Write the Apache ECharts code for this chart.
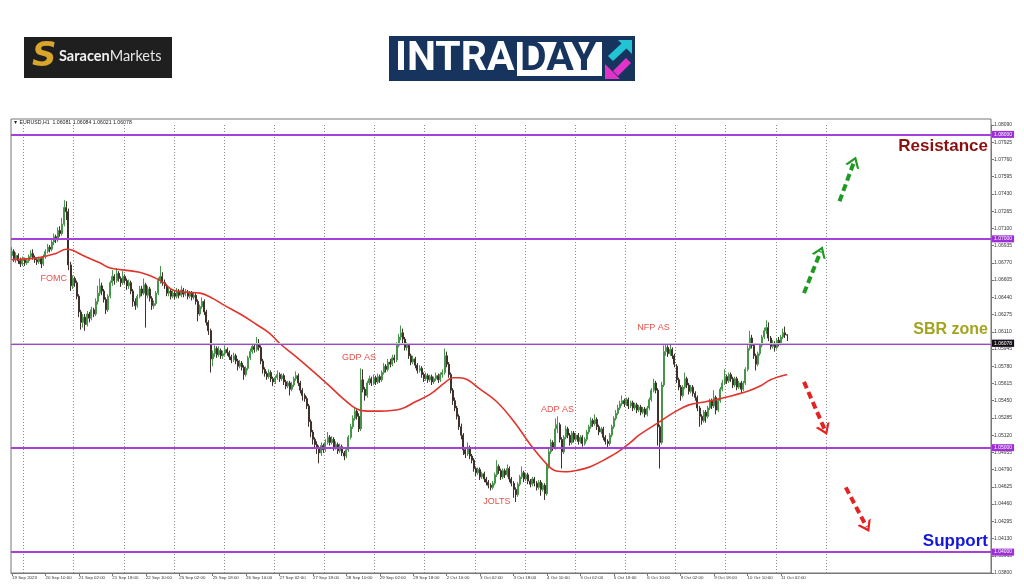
<!DOCTYPE html>
<html><head><meta charset="utf-8">
<script src="https://cdn.jsdelivr.net/npm/echarts@6/dist/echarts.min.js"></script>
<style>html,body{margin:0;padding:0;background:#fff}#c{width:1024px;height:587px}</style>
</head><body><div id="c"></div>
<script>
// ---- data ----
const timeLabels = ['19 Sep 2023','20 Sep 10:00','21 Sep 02:00','21 Sep 18:00','22 Sep 10:00','25 Sep 02:00','25 Sep 18:00','26 Sep 10:00','27 Sep 02:00','27 Sep 18:00','28 Sep 10:00','29 Sep 02:00','29 Sep 18:00','2 Oct 10:00','3 Oct 02:00','3 Oct 18:00','4 Oct 10:00','5 Oct 02:00','5 Oct 18:00','6 Oct 10:00','9 Oct 02:00','9 Oct 18:00','10 Oct 10:00','11 Oct 02:00'];
const barsPerLabel = 16;
const totalSlots = 469;           // hourly slots incl. empty chart shift on the right
const dayStartSlot = 6, barsPerDay = 24, lastGridSlot = 390;

// EURUSD H1 candles: [open, close, low, high]
const ohlc = [
[1.0684,1.0688,1.0680,1.0692],[1.0688,1.0681,1.0678,1.0690],[1.0681,1.0684,1.0677,1.0687],[1.0684,1.0679,1.0676,1.0686],[1.0679,1.0676,1.0673,1.0682],[1.0676,1.0680,1.0674,1.0683],[1.0680,1.0677,1.0674,1.0682],[1.0677,1.0679,1.0675,1.0681],[1.0679,1.0683,1.0677,1.0685],[1.0683,1.0686,1.0681,1.0689],
[1.0686,1.0682,1.0680,1.0690],[1.0682,1.0680,1.0677,1.0684],[1.0680,1.0678,1.0675,1.0682],[1.0678,1.0681,1.0676,1.0683],[1.0681,1.0676,1.0672,1.0682],[1.0676,1.0683,1.0674,1.0685],[1.0683,1.0688,1.0681,1.0690],[1.0688,1.0692,1.0686,1.0695],[1.0692,1.0690,1.0687,1.0694],[1.0690,1.0697,1.0688,1.0699],
[1.0697,1.0702,1.0694,1.0705],[1.0702,1.0699,1.0696,1.0704],[1.0699,1.0708,1.0697,1.0711],[1.0708,1.0705,1.0702,1.0712],[1.0705,1.0714,1.0703,1.0720],[1.0714,1.0730,1.0712,1.0737],[1.0730,1.0726,1.0718,1.0736],[1.0726,1.0675,1.0670,1.0729],[1.0675,1.0655,1.0650,1.0678],[1.0655,1.0662,1.0652,1.0665],
[1.0662,1.0658,1.0654,1.0664],[1.0658,1.0645,1.0642,1.0660],[1.0645,1.0630,1.0625,1.0647],[1.0630,1.0620,1.0613,1.0632],[1.0620,1.0625,1.0615,1.0628],[1.0625,1.0618,1.0612,1.0628],[1.0618,1.0628,1.0616,1.0631],[1.0628,1.0624,1.0620,1.0630],[1.0624,1.0632,1.0622,1.0635],[1.0632,1.0628,1.0625,1.0634],
[1.0628,1.0640,1.0626,1.0643],[1.0640,1.0648,1.0637,1.0655],[1.0648,1.0655,1.0645,1.0662],[1.0655,1.0650,1.0646,1.0658],[1.0650,1.0642,1.0639,1.0652],[1.0642,1.0632,1.0628,1.0644],[1.0632,1.0645,1.0630,1.0647],[1.0645,1.0658,1.0643,1.0660],[1.0658,1.0664,1.0655,1.0670],[1.0664,1.0660,1.0656,1.0666],
[1.0660,1.0667,1.0658,1.0672],[1.0667,1.0662,1.0659,1.0669],[1.0662,1.0658,1.0654,1.0664],[1.0658,1.0664,1.0656,1.0669],[1.0664,1.0660,1.0657,1.0666],[1.0660,1.0655,1.0651,1.0662],[1.0655,1.0658,1.0652,1.0661],[1.0658,1.0650,1.0647,1.0660],[1.0650,1.0640,1.0635,1.0652],[1.0640,1.0636,1.0632,1.0643],
[1.0636,1.0645,1.0634,1.0647],[1.0645,1.0652,1.0643,1.0655],[1.0652,1.0648,1.0645,1.0655],[1.0648,1.0656,1.0646,1.0662],[1.0656,1.0646,1.0615,1.0658],[1.0646,1.0652,1.0643,1.0655],[1.0652,1.0643,1.0640,1.0654],[1.0643,1.0636,1.0632,1.0645],[1.0636,1.0638,1.0633,1.0641],[1.0638,1.0648,1.0636,1.0650],
[1.0648,1.0660,1.0646,1.0663],[1.0660,1.0664,1.0657,1.0674],[1.0664,1.0658,1.0655,1.0668],[1.0658,1.0655,1.0652,1.0661],[1.0655,1.0648,1.0645,1.0657],[1.0648,1.0650,1.0645,1.0653],[1.0650,1.0645,1.0642,1.0652],[1.0645,1.0648,1.0643,1.0651],[1.0648,1.0645,1.0642,1.0650],[1.0645,1.0650,1.0643,1.0653],
[1.0650,1.0646,1.0643,1.0652],[1.0646,1.0651,1.0644,1.0655],[1.0651,1.0647,1.0644,1.0653],[1.0647,1.0649,1.0645,1.0652],[1.0649,1.0645,1.0642,1.0651],[1.0645,1.0648,1.0643,1.0650],[1.0648,1.0644,1.0641,1.0650],[1.0644,1.0646,1.0642,1.0649],[1.0646,1.0640,1.0637,1.0648],[1.0640,1.0628,1.0621,1.0642],
[1.0628,1.0635,1.0626,1.0637],[1.0635,1.0640,1.0633,1.0644],[1.0640,1.0630,1.0627,1.0642],[1.0630,1.0620,1.0617,1.0632],[1.0620,1.0612,1.0608,1.0622],[1.0612,1.0585,1.0572,1.0614],[1.0585,1.0590,1.0578,1.0593],[1.0590,1.0595,1.0587,1.0598],[1.0595,1.0589,1.0586,1.0597],[1.0589,1.0593,1.0587,1.0597],
[1.0593,1.0588,1.0585,1.0595],[1.0588,1.0590,1.0585,1.0593],[1.0590,1.0594,1.0588,1.0598],[1.0594,1.0591,1.0588,1.0596],[1.0591,1.0587,1.0584,1.0593],[1.0587,1.0584,1.0581,1.0589],[1.0584,1.0588,1.0582,1.0591],[1.0588,1.0583,1.0580,1.0590],[1.0583,1.0578,1.0574,1.0585],[1.0578,1.0581,1.0576,1.0584],
[1.0581,1.0577,1.0574,1.0583],[1.0577,1.0570,1.0565,1.0579],[1.0570,1.0576,1.0568,1.0578],[1.0576,1.0586,1.0574,1.0588],[1.0586,1.0592,1.0584,1.0595],[1.0592,1.0597,1.0590,1.0600],[1.0597,1.0594,1.0591,1.0599],[1.0594,1.0600,1.0592,1.0606],[1.0600,1.0596,1.0593,1.0604],[1.0596,1.0583,1.0580,1.0598],
[1.0583,1.0575,1.0571,1.0585],[1.0575,1.0571,1.0568,1.0577],[1.0571,1.0568,1.0565,1.0573],[1.0568,1.0572,1.0566,1.0575],[1.0572,1.0566,1.0563,1.0574],[1.0566,1.0563,1.0559,1.0568],[1.0563,1.0567,1.0561,1.0569],[1.0567,1.0570,1.0565,1.0574],[1.0570,1.0566,1.0563,1.0572],[1.0566,1.0569,1.0564,1.0571],
[1.0569,1.0563,1.0560,1.0571],[1.0563,1.0559,1.0556,1.0565],[1.0559,1.0562,1.0557,1.0564],[1.0562,1.0556,1.0550,1.0564],[1.0556,1.0560,1.0554,1.0563],[1.0560,1.0566,1.0558,1.0568],[1.0566,1.0569,1.0564,1.0573],[1.0569,1.0562,1.0559,1.0571],[1.0562,1.0555,1.0552,1.0564],[1.0555,1.0550,1.0545,1.0557],
[1.0550,1.0547,1.0544,1.0552],[1.0547,1.0540,1.0537,1.0549],[1.0540,1.0525,1.0520,1.0542],[1.0525,1.0515,1.0510,1.0527],[1.0515,1.0508,1.0503,1.0517],[1.0508,1.0503,1.0499,1.0510],[1.0503,1.0500,1.0494,1.0506],[1.0500,1.0495,1.0485,1.0502],[1.0495,1.0502,1.0492,1.0505],[1.0502,1.0498,1.0495,1.0504],
[1.0498,1.0505,1.0496,1.0508],[1.0505,1.0510,1.0503,1.0515],[1.0510,1.0505,1.0502,1.0512],[1.0505,1.0508,1.0503,1.0511],[1.0508,1.0500,1.0497,1.0510],[1.0500,1.0503,1.0498,1.0506],[1.0503,1.0497,1.0494,1.0505],[1.0497,1.0501,1.0495,1.0504],[1.0501,1.0495,1.0492,1.0503],[1.0495,1.0492,1.0488,1.0497],
[1.0492,1.0498,1.0490,1.0500],[1.0498,1.0510,1.0496,1.0512],[1.0510,1.0520,1.0508,1.0523],[1.0520,1.0528,1.0518,1.0531],[1.0528,1.0535,1.0526,1.0539],[1.0535,1.0530,1.0527,1.0538],[1.0530,1.0518,1.0515,1.0533],[1.0518,1.0565,1.0516,1.0576],[1.0565,1.0556,1.0553,1.0575],[1.0556,1.0550,1.0545,1.0558],
[1.0550,1.0562,1.0548,1.0564],[1.0562,1.0566,1.0560,1.0569],[1.0566,1.0562,1.0559,1.0568],[1.0562,1.0567,1.0560,1.0570],[1.0567,1.0563,1.0560,1.0569],[1.0563,1.0568,1.0561,1.0571],[1.0568,1.0565,1.0562,1.0570],[1.0565,1.0572,1.0563,1.0574],[1.0572,1.0578,1.0570,1.0581],[1.0578,1.0575,1.0572,1.0580],
[1.0575,1.0582,1.0573,1.0585],[1.0582,1.0580,1.0577,1.0585],[1.0580,1.0586,1.0578,1.0589],[1.0586,1.0584,1.0581,1.0589],[1.0584,1.0598,1.0582,1.0601],[1.0598,1.0606,1.0596,1.0609],[1.0606,1.0610,1.0603,1.0617],[1.0610,1.0604,1.0600,1.0614],[1.0604,1.0596,1.0593,1.0606],[1.0596,1.0598,1.0593,1.0601],
[1.0598,1.0588,1.0585,1.0600],[1.0588,1.0582,1.0579,1.0590],[1.0582,1.0585,1.0580,1.0588],[1.0585,1.0579,1.0576,1.0587],[1.0579,1.0574,1.0571,1.0581],[1.0574,1.0576,1.0572,1.0579],[1.0576,1.0570,1.0567,1.0578],[1.0570,1.0566,1.0563,1.0572],[1.0566,1.0569,1.0564,1.0572],[1.0569,1.0565,1.0562,1.0571],
[1.0565,1.0568,1.0563,1.0570],[1.0568,1.0563,1.0560,1.0570],[1.0563,1.0566,1.0561,1.0568],[1.0566,1.0569,1.0564,1.0572],[1.0569,1.0565,1.0562,1.0571],[1.0565,1.0570,1.0563,1.0572],[1.0570,1.0572,1.0567,1.0575],[1.0572,1.0588,1.0570,1.0595],[1.0588,1.0580,1.0577,1.0592],[1.0580,1.0570,1.0567,1.0582],
[1.0570,1.0555,1.0552,1.0572],[1.0555,1.0545,1.0541,1.0557],[1.0545,1.0538,1.0535,1.0548],[1.0538,1.0530,1.0527,1.0540],[1.0530,1.0520,1.0517,1.0532],[1.0520,1.0512,1.0508,1.0523],[1.0512,1.0498,1.0493,1.0514],[1.0498,1.0494,1.0490,1.0500],[1.0494,1.0500,1.0492,1.0505],[1.0500,1.0492,1.0489,1.0502],
[1.0492,1.0488,1.0485,1.0494],[1.0488,1.0480,1.0477,1.0490],[1.0480,1.0476,1.0473,1.0482],[1.0476,1.0479,1.0474,1.0481],[1.0479,1.0472,1.0469,1.0481],[1.0472,1.0475,1.0470,1.0477],[1.0475,1.0470,1.0467,1.0477],[1.0470,1.0467,1.0464,1.0472],[1.0467,1.0464,1.0461,1.0469],[1.0464,1.0462,1.0459,1.0466],
[1.0462,1.0466,1.0460,1.0468],[1.0466,1.0474,1.0464,1.0476],[1.0474,1.0482,1.0472,1.0488],[1.0482,1.0478,1.0475,1.0484],[1.0478,1.0472,1.0469,1.0480],[1.0472,1.0478,1.0470,1.0480],[1.0478,1.0474,1.0471,1.0480],[1.0474,1.0480,1.0472,1.0484],[1.0480,1.0470,1.0467,1.0482],[1.0470,1.0466,1.0463,1.0472],
[1.0466,1.0460,1.0452,1.0468],[1.0460,1.0455,1.0448,1.0462],[1.0455,1.0465,1.0453,1.0467],[1.0465,1.0472,1.0463,1.0474],[1.0472,1.0476,1.0470,1.0482],[1.0476,1.0470,1.0467,1.0478],[1.0470,1.0474,1.0468,1.0476],[1.0474,1.0468,1.0465,1.0476],[1.0468,1.0465,1.0462,1.0470],[1.0465,1.0470,1.0463,1.0472],
[1.0470,1.0466,1.0463,1.0472],[1.0466,1.0462,1.0459,1.0468],[1.0462,1.0467,1.0460,1.0469],[1.0467,1.0460,1.0454,1.0469],[1.0460,1.0464,1.0458,1.0466],[1.0464,1.0456,1.0450,1.0466],[1.0456,1.0482,1.0454,1.0485],[1.0482,1.0496,1.0480,1.0499],[1.0496,1.0505,1.0494,1.0508],[1.0505,1.0500,1.0497,1.0507],
[1.0500,1.0518,1.0498,1.0528],[1.0518,1.0522,1.0514,1.0530],[1.0522,1.0508,1.0505,1.0524],[1.0508,1.0496,1.0480,1.0510],[1.0496,1.0510,1.0494,1.0512],[1.0510,1.0518,1.0508,1.0521],[1.0518,1.0512,1.0509,1.0520],[1.0512,1.0505,1.0502,1.0514],[1.0505,1.0514,1.0503,1.0516],[1.0514,1.0508,1.0505,1.0516],
[1.0508,1.0512,1.0506,1.0514],[1.0512,1.0506,1.0503,1.0514],[1.0506,1.0510,1.0504,1.0512],[1.0510,1.0504,1.0501,1.0512],[1.0504,1.0508,1.0502,1.0510],[1.0508,1.0515,1.0506,1.0517],[1.0515,1.0520,1.0513,1.0522],[1.0520,1.0526,1.0518,1.0529],[1.0526,1.0523,1.0520,1.0528],[1.0523,1.0527,1.0521,1.0532],
[1.0527,1.0520,1.0517,1.0529],[1.0520,1.0515,1.0512,1.0522],[1.0515,1.0518,1.0513,1.0520],[1.0518,1.0510,1.0507,1.0520],[1.0510,1.0506,1.0503,1.0512],[1.0506,1.0504,1.0500,1.0508],[1.0504,1.0512,1.0502,1.0514],[1.0512,1.0520,1.0510,1.0522],[1.0520,1.0528,1.0518,1.0530],[1.0528,1.0533,1.0526,1.0536],
[1.0533,1.0538,1.0531,1.0541],[1.0538,1.0542,1.0536,1.0545],[1.0542,1.0545,1.0540,1.0550],[1.0545,1.0542,1.0539,1.0547],[1.0542,1.0546,1.0540,1.0548],[1.0546,1.0540,1.0537,1.0548],[1.0540,1.0543,1.0538,1.0545],[1.0543,1.0538,1.0535,1.0545],[1.0538,1.0541,1.0536,1.0543],[1.0541,1.0536,1.0533,1.0543],
[1.0536,1.0539,1.0534,1.0541],[1.0539,1.0534,1.0531,1.0541],[1.0534,1.0537,1.0532,1.0539],[1.0537,1.0532,1.0529,1.0539],[1.0532,1.0538,1.0530,1.0540],[1.0538,1.0546,1.0536,1.0548],[1.0546,1.0555,1.0544,1.0557],[1.0555,1.0562,1.0553,1.0566],[1.0562,1.0555,1.0552,1.0564],[1.0555,1.0520,1.0502,1.0557],
[1.0520,1.0505,1.0480,1.0522],[1.0505,1.0560,1.0503,1.0563],[1.0560,1.0592,1.0558,1.0598],[1.0592,1.0596,1.0588,1.0600],[1.0596,1.0590,1.0587,1.0598],[1.0590,1.0594,1.0588,1.0600],[1.0594,1.0588,1.0585,1.0596],[1.0588,1.0580,1.0577,1.0590],[1.0578,1.0565,1.0562,1.0580],[1.0565,1.0558,1.0555,1.0567],
[1.0558,1.0550,1.0545,1.0560],[1.0550,1.0558,1.0548,1.0560],[1.0558,1.0566,1.0556,1.0572],[1.0566,1.0560,1.0557,1.0568],[1.0560,1.0554,1.0551,1.0562],[1.0554,1.0558,1.0552,1.0560],[1.0558,1.0552,1.0549,1.0560],[1.0552,1.0548,1.0545,1.0554],[1.0548,1.0538,1.0535,1.0550],[1.0538,1.0530,1.0520,1.0540],
[1.0530,1.0526,1.0522,1.0532],[1.0526,1.0534,1.0524,1.0536],[1.0534,1.0530,1.0524,1.0536],[1.0530,1.0538,1.0528,1.0540],[1.0538,1.0545,1.0536,1.0547],[1.0545,1.0540,1.0537,1.0547],[1.0540,1.0548,1.0538,1.0555],[1.0548,1.0536,1.0532,1.0550],[1.0536,1.0545,1.0534,1.0547],[1.0545,1.0556,1.0543,1.0558],
[1.0556,1.0562,1.0554,1.0565],[1.0562,1.0568,1.0560,1.0575],[1.0568,1.0564,1.0561,1.0570],[1.0564,1.0570,1.0562,1.0572],[1.0570,1.0566,1.0563,1.0572],[1.0566,1.0560,1.0557,1.0568],[1.0560,1.0566,1.0558,1.0568],[1.0566,1.0558,1.0555,1.0568],[1.0558,1.0562,1.0556,1.0564],[1.0562,1.0556,1.0552,1.0564],
[1.0556,1.0562,1.0554,1.0564],[1.0562,1.0575,1.0560,1.0577],[1.0575,1.0595,1.0573,1.0598],[1.0595,1.0605,1.0593,1.0612],[1.0605,1.0598,1.0595,1.0608],[1.0598,1.0588,1.0585,1.0600],[1.0588,1.0580,1.0574,1.0590],[1.0580,1.0590,1.0578,1.0592],[1.0590,1.0598,1.0588,1.0600],[1.0598,1.0606,1.0596,1.0608],
[1.0606,1.0612,1.0604,1.0615],[1.0612,1.0615,1.0609,1.0622],[1.0615,1.0605,1.0602,1.0620],[1.0605,1.0597,1.0594,1.0607],[1.0597,1.0600,1.0595,1.0603],[1.0600,1.0596,1.0592,1.0602],[1.0596,1.0603,1.0594,1.0605],[1.0603,1.0600,1.0597,1.0606],[1.0600,1.0606,1.0598,1.0608],[1.0606,1.0610,1.0604,1.0614],
[1.0610,1.0608,1.0605,1.0616],[1.06081,1.06078,1.06021,1.06084]
];

// moving average: [slot, price]
const maPoints = [[0,1.0680],[13,1.0682],[21,1.0686],[26,1.0690],[29,1.0689],[34,1.0684],[42,1.0677],[47,1.0672],[61,1.0668],[71,1.0660],[77,1.0651],[83,1.0649],[90,1.0648],[96,1.0643],[101,1.0637],[110,1.0627],[117,1.0618],[123,1.0610],[128,1.0600],[136,1.0587],[143,1.0575],[152,1.0559],[159,1.0546],[165,1.0537],[170,1.0535],[176,1.0535],[186,1.0537],[193,1.0544],[200,1.0551],[207,1.0562],[211,1.0567],[214,1.0567],[218,1.0565],[224,1.0556],[232,1.0544],[241,1.0523],[248,1.0503],[256,1.0484],[260,1.0478],[266,1.0477],[272,1.0479],[277,1.0482],[284,1.0489],[290,1.0496],[296,1.0505],[300,1.0512],[310,1.0525],[317,1.0534],[324,1.0541],[332,1.0544],[339,1.0547],[352,1.0554],[358,1.0559],[363,1.0565],[371,1.0570]];

const levels = [1.08, 1.07, 1.06, 1.05, 1.04];
const lastPrice = 1.06078;
const headerText = '\u25BC EURUSD,H1  1.06081 1.06084 1.06021 1.06078';
const zoneTexts = [
  {level: 1.08, text: 'Resistance', color: '#8a1010', pos: 'insideEndBottom', size: 17, dy: 3},
  {level: 1.06, text: 'SBR zone', color: '#a3a320', pos: 'insideEndTop', size: 16, dy: 6},
  {level: 1.04, text: 'Support', color: '#1515e0', pos: 'insideEndTop', size: 17, dy: 2}
];
const events = [
  {slot: 20, price: 1.06624, text: 'FOMC'},
  {slot: 166, price: 1.05859, text: 'GDP AS'},
  {slot: 261, price: 1.05362, text: 'ADP AS'},
  {slot: 232, price: 1.04483, text: 'JOLTS'},
  {slot: 307, price: 1.06146, text: 'NFP AS'}
];
// projected scenario arrows: [fromSlot, fromPrice, toSlot, toPrice, colour]
const arrows = [
  [396, 1.0736, 403, 1.0774, '#1e9a22'],
  [379, 1.0648, 387, 1.0688, '#1e9a22'],
  [379, 1.0563, 389, 1.0517, '#e52222'],
  [399, 1.0462, 409, 1.0424, '#e52222']
];

// ---- chart ----
const slots = Array.from({length: totalSlots}, (_, i) => String(i));
const labelInterval = (i) => i % barsPerLabel === 0 && i / barsPerLabel < timeLabels.length;
const dayInterval = (i) => i >= dayStartSlot && (i - dayStartSlot) % barsPerDay === 0 && i <= lastGridSlot;
const chevron = 'path://M10,0 L20,12 L16.6,12 L10,4.2 L3.4,12 L0,12 Z';
const FONT = 'Liberation Sans';

const chart = echarts.init(document.getElementById('c'), null, {renderer: 'canvas'});
chart.setOption({
  animation: false,
  backgroundColor: '#ffffff',
  textStyle: {fontFamily: FONT},
  grid: {left: 11, right: 33, top: 125, bottom: 14},
  xAxis: {
    type: 'category', data: slots, boundaryGap: true,
    axisLine: {show: true, lineStyle: {color: '#777', width: 1}},
    axisTick: {show: true, alignWithLabel: true, interval: labelInterval, length: 3, lineStyle: {color: '#777'}},
    axisLabel: {interval: labelInterval, formatter: (v, idx) => timeLabels[idx / barsPerLabel] || '', fontSize: 4.4, color: '#333', align: 'left', margin: 3, fontFamily: FONT},
    splitLine: {show: true, interval: dayInterval, lineStyle: {type: [1, 2], color: '#8a8a8a', width: 1}}
  },
  yAxis: {
    type: 'value', position: 'right', min: 1.038, max: 1.0809, interval: 0.00165,
    axisLine: {show: true, lineStyle: {color: '#777'}},
    axisTick: {show: true, length: 3, lineStyle: {color: '#777'}},
    axisLabel: {fontSize: 5, color: '#333', margin: 3, formatter: (v) => v.toFixed(5), fontFamily: FONT},
    splitLine: {show: false}
  },
  series: [
    {
      type: 'candlestick', data: ohlc, barWidth: 1.5,
      itemStyle: {color: '#3a9140', color0: '#2f231e', borderColor: '#46954a', borderColor0: '#3e302a', borderWidth: 1},
      markLine: {
        silent: true, symbol: ['none', 'none'], animation: false,
        data: levels.map(v => ({
          yAxis: v,
          lineStyle: {color: '#a540d8', width: 2, type: 'solid'},
          label: {show: true, position: 'end', formatter: v.toFixed(5), backgroundColor: '#9c2fd6', color: '#fff', fontSize: 5, padding: [1, 2], distance: 1, fontFamily: FONT}
        })).concat([{
          yAxis: lastPrice,
          lineStyle: {color: '#c4c4c4', width: 1, type: 'solid'},
          label: {show: true, position: 'end', formatter: lastPrice.toFixed(5), backgroundColor: '#111', color: '#fff', fontSize: 5, padding: [1, 2], distance: 1, fontFamily: FONT}
        }])
      },
      markPoint: {
        silent: true, symbol: 'circle', symbolSize: 1, itemStyle: {color: 'rgba(0,0,0,0)'},
        label: {show: true, position: 'inside', formatter: p => p.name, color: '#e4524a', fontSize: 9, fontFamily: FONT},
        data: events.map(e => ({name: e.text, coord: [e.slot, e.price]}))
      }
    },
    {
      type: 'line', data: maPoints, smooth: 0.4, showSymbol: false, symbol: 'none',
      lineStyle: {color: '#e0342c', width: 1.6}, z: 3,
      markLine: {
        silent: true, animation: false, symbol: ['none', 'none'],
        data: arrows.map(a => ([
          {coord: [a[0], a[1]], symbol: 'none', lineStyle: {color: a[4], width: 4, type: [7, 4]}, label: {show: false}},
          {coord: [a[2], a[3]], symbol: chevron, symbolSize: [15, 11]}
        ]))
      }
    },
    {
      type: 'line', data: [], symbol: 'none', z: 4,
      markLine: {
        silent: true, animation: false, symbol: ['none', 'none'],
        data: zoneTexts.map(z => ({
          yAxis: z.level,
          lineStyle: {color: 'rgba(0,0,0,0)', width: 1},
          label: {show: true, position: z.pos, formatter: z.text, color: z.color, fontSize: z.size, fontWeight: 'bold', fontFamily: FONT, distance: [3, z.dy]}
        }))
      }
    }
  ],
  graphic: [
    // plot frame
    {type: 'rect', shape: {x: 11, y: 119, width: 980, height: 454}, style: {fill: 'none', stroke: '#777', lineWidth: 1}, silent: true, z: 0},
    {type: 'text', left: 13, top: 120, style: {text: headerText, fontSize: 5.2, fill: '#222', fontFamily: FONT}},
    // Saracen Markets logo
    {type: 'rect', shape: {x: 24, y: 37, width: 148, height: 41}, style: {fill: '#1f1f1f'}},
    {type: 'text', left: 32, top: 40, style: {text: 'S', fontSize: 34, fontWeight: 900, fontStyle: 'italic', fontFamily: 'DejaVu Sans', fill: '#d9a52a'}},
    {type: 'text', left: 59, top: 49, style: {rich: {a: {fontSize: 14.5, fontWeight: 'bold', fill: '#f2f2f2', fontFamily: 'Lato'}, b: {fontSize: 14.5, fontWeight: 'normal', fill: '#e6e6e6', fontFamily: 'Lato'}}, text: '{a|Saracen}{b|Markets}'}},
    // INTRADAY logo
    {type: 'rect', shape: {x: 389, y: 36, width: 246, height: 45}, style: {fill: '#17345e'}},
    {type: 'rect', shape: {x: 517, y: 42, width: 85, height: 34}, style: {fill: '#ffffff'}},
    {type: 'text', left: 395, top: 39, style: {text: 'INTRA', fontSize: 41, fontWeight: 'bold', fill: '#ffffff', fontFamily: 'Roboto'}},
    {type: 'text', left: 520, top: 39, style: {text: 'DAY', fontSize: 41, fontWeight: 'bold', fill: '#17345e', fontFamily: 'Roboto'}},
    {type: 'polygon', shape: {points: [[618, 40], [632, 40], [632, 54]]}, style: {fill: '#22c3d3'}},
    {type: 'polygon', shape: {points: [[608, 56], [613, 61], [627, 48], [622, 43]]}, style: {fill: '#22c3d3'}},
    {type: 'polygon', shape: {points: [[605, 64], [605, 79], [620, 79]]}, style: {fill: '#e233c9'}},
    {type: 'polygon', shape: {points: [[613, 71], [618, 76], [631, 63], [626, 58]]}, style: {fill: '#e233c9'}}
  ]
});
</script>
</body></html>
